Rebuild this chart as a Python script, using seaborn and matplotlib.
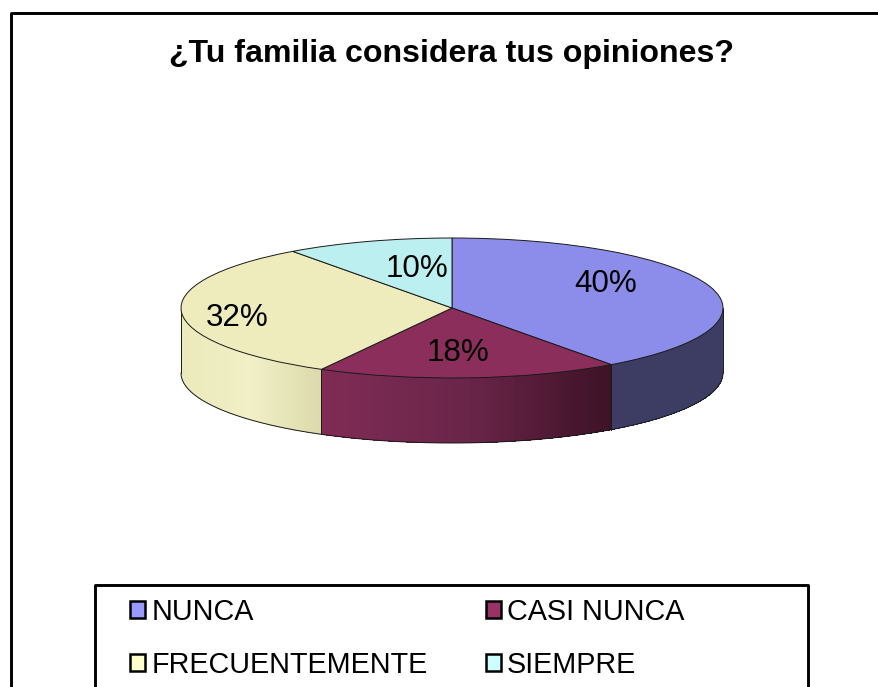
import matplotlib
matplotlib.use('Agg')
import matplotlib.pyplot as plt
from matplotlib.lines import Line2D
from matplotlib.colors import to_rgb
import numpy as np
import seaborn as sns

# datos
categories = ['NUNCA', 'CASI NUNCA', 'FRECUENTEMENTE', 'SIEMPRE']
values = [40, 18, 32, 10]
pct_labels = ['40%', '18%', '32%', '10%']
title = '¿Tu familia considera tus opiniones?'

top_colors = ['#8c8cea', '#8b2e5c', '#eeecbc', '#bcefef']
legend_colors = ['#9999ff', '#993366', '#ffffcc', '#ccffff']
# color lateral: izquierda, centro, derecha
side_colors = [['#3d3d63', '#3d3d63', '#3d3d63'],
               ['#802c55', '#6a2549', '#3d1226'],
               ['#ebeabb', '#f0efc6', '#dcdaac'],
               ['#7fa0a0', '#7fa0a0', '#7fa0a0']]

W, H = 879, 687
CX, CY, RX, RY = 452, 308, 271, 70
DEPTH = 65 / RY

sns.set_theme(style='white')
plt.rcParams['font.family'] = ['Liberation Sans', 'DejaVu Sans']

fig = plt.figure(figsize=(W / 100, H / 100), dpi=100, facecolor='white')
ax = fig.add_axes([(CX - RX) / W, (H - CY - RY) / H, 2 * RX / W, 2 * RY / H])


def fx(x):
    return x / W


def fy(y):
    return 1 - y / H


def mix(stops, t):
    rgb = [np.array(to_rgb(c)) for c in stops]
    if t < 0.5:
        return rgb[0] + (rgb[1] - rgb[0]) * t * 2
    return rgb[1] + (rgb[2] - rgb[1]) * (t - 0.5) * 2


# pie superior
wedges, _, autotexts = ax.pie(
    values, colors=sns.color_palette(top_colors), startangle=90, counterclock=False,
    radius=1, autopct='%1.0f%%', textprops={'fontsize': 22.6, 'color': 'black'},
    wedgeprops={'edgecolor': '#1a1a1a', 'linewidth': 0.7, 'zorder': 3})
ax.set_aspect('auto')
ax.set_xlim(-1, 1)
ax.set_ylim(-1, 1)

label_px = [(606, 284), (458, 353), (237, 318), (417, 269)]
for t, (px, py), s in zip(autotexts, label_px, pct_labels):
    t.set_text(s)
    t.set_position(((px - CX) / RX, (CY - py) / RY))
    t.set_zorder(5)

# lateral del pie (solo la mitad frontal)
edges = np.cumsum([0] + values) / sum(values) * 2 * np.pi
lo, hi = np.pi / 2, 3 * np.pi / 2
for i in range(len(values)):
    a0, a1 = max(edges[i], lo), min(edges[i + 1], hi)
    if a0 >= a1:
        continue
    n = 60
    th = np.linspace(a0, a1, n + 1)
    x_left, x_right = np.sin(th).min(), np.sin(th).max()
    for k in range(n):
        seg = np.linspace(th[k], th[k + 1], 4)
        xs = np.sin(seg)
        ys = np.cos(seg)
        t = (xs.mean() - x_left) / (x_right - x_left)
        col = mix(side_colors[i], t)
        ax.fill(np.r_[xs, xs[::-1]], np.r_[ys, ys[::-1] - DEPTH], color=col,
                lw=0, antialiased=False, zorder=1, clip_on=False)
    # lineas verticales en los limites
    for a in [a0, a1]:
        ax.plot([np.sin(a)] * 2, [np.cos(a), np.cos(a) - DEPTH], color='#1a1a1a',
                lw=0.7, zorder=2, clip_on=False)

th = np.linspace(lo, hi, 300)
ax.plot(np.sin(th), np.cos(th) - DEPTH, color='#1a1a1a', lw=0.7, zorder=2, clip_on=False)
for w in wedges:
    w.set_clip_on(False)

# titulo
fig.text(fx(451.5), fy(54), title, fontsize=23.1, fontweight='bold', color='black',
         ha='center', va='center')

# marco exterior (izquierda y arriba)
fig.add_artist(Line2D([fx(11), fx(11), 1], [0, fy(13), fy(13)], color='black', lw=2.1))
# caja de leyenda, cortada abajo
fig.add_artist(Line2D([fx(95), fx(95), fx(808), fx(808)], [0, fy(585), fy(585), 0],
                      color='black', lw=2.1))

handles = [plt.Rectangle((0, 0), 1, 1, facecolor=c, edgecolor='black', linewidth=1.8)
           for c in legend_colors]
order = [0, 2, 1, 3]
leg = fig.legend([handles[i] for i in order], [categories[i] for i in order],
                 ncol=2, frameon=False, fontsize=20.7, loc='upper left',
                 bbox_to_anchor=(fx(130), fy(597.5)), bbox_transform=fig.transFigure,
                 borderpad=0, borderaxespad=0, handlelength=0.52, handleheight=0.52,
                 handletextpad=0.22, labelspacing=0.88, columnspacing=2.02)
for txt in leg.get_texts():
    txt.set_color('black')

fig.savefig('out.png', dpi=100)
